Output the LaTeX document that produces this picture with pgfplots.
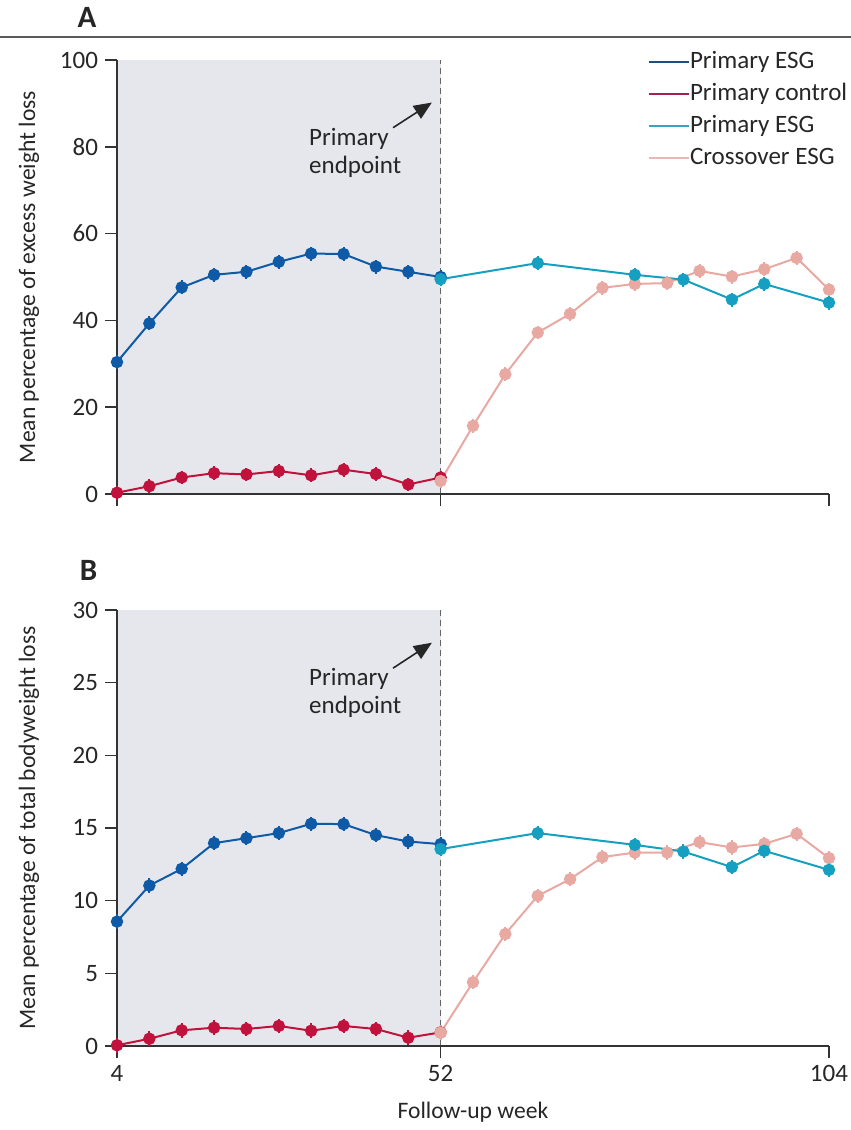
\documentclass[border=0pt]{standalone}
\usepackage{fontspec}
\setmainfont{Carlito}
\usepackage{pgfplots}
\usepackage{pgfplotstable}
\pgfplotsset{compat=1.18}
\usetikzlibrary{arrows.meta}
\definecolor{esgblue}{HTML}{0E5AA7}
\definecolor{ctrlred}{HTML}{C0123C}
\definecolor{esgcyan}{HTML}{15A0C2}
\definecolor{crosspink}{HTML}{E8A9A2}
\definecolor{bgshade}{HTML}{E6E7EC}
\definecolor{axisgray}{HTML}{333333}
\definecolor{legblue}{HTML}{1F4D80}
\definecolor{legred}{HTML}{A8204F}
\definecolor{legcyan}{HTML}{35A5BF}
\definecolor{legpink}{HTML}{EAB8B4}
\newcommand{\fs}{\fontsize{12.5}{14}\selectfont}
\newcommand{\fl}{\fontsize{11.8}{14}\selectfont}

% x = visit position (0 = week 4, 10 = week 52, 22 = week 104)
\pgfplotstableread{
x  a     b
0  30.4  8.56
1  39.3  11.04
2  47.6  12.19
3  50.5  13.96
4  51.2  14.30
5  53.5  14.65
6  55.4  15.29
7  55.3  15.27
8  52.4  14.51
9  51.2  14.07
10 50.0  13.89
}\esgtab
\pgfplotstableread{
x  a    b
0  0.3  0.05
1  1.8  0.50
2  3.8  1.08
3  4.8  1.26
4  4.5  1.17
5  5.3  1.38
6  4.3  1.05
7  5.6  1.38
8  4.6  1.17
9  2.2  0.57
10 3.8  0.94
}\ctrltab
\pgfplotstableread{
x    a     b
10   49.5  13.55
13   53.2  14.65
16   50.5  13.84
17.5 49.4  13.38
19   44.8  12.31
20   48.4  13.43
22   44.1  12.12
}\cyantab
\pgfplotstableread{
x  a     b
10 3.0   0.92
11 15.7  4.39
12 27.6  7.71
13 37.2  10.33
14 41.5  11.48
15 47.5  13.00
16 48.4  13.31
17 48.6  13.31
18 51.4  14.03
19 50.1  13.66
20 51.8  13.91
21 54.4  14.60
22 47.1  12.93
}\crosstab

\pgfplotsset{
  panel/.style={
    set layers,
    scale only axis, width=356pt,
    xmin=0, xmax=22,
    axis x line*=bottom, axis y line*=left,
    axis line style={axisgray, line width=0.75pt},
    tick style={axisgray, line width=0.75pt},
    major tick length=6pt, tick align=outside,
    xtick={0,10,22},
    clip=false,
    /pgf/number format/assume math mode=true,
    tick label style={font=\fs, text=black!85},
    every axis y label/.style={at={(axis description cs:-0.1236,0.5)}, rotate=90, anchor=center, font=\fl, text=black!85},
    every axis x label/.style={at={(axis description cs:0.5,-0.1514)}, anchor=center, font=\fl, text=black!85},
  },
  ser/.style={#1, line width=1pt, mark=*, mark size=2.6pt, forget plot},
}

\begin{document}
\begin{tikzpicture}
\draw[black!65, line width=1pt] (-58.5pt,228.5pt) -- (367pt,228.5pt);
\node[font=\bfseries\fontsize{15.5}{18}\selectfont, text=black!85] at (-15pt,238.5pt) {A};
\node[font=\bfseries\fontsize{15.5}{18}\selectfont, text=black!85] at (-14.25pt,-38pt) {B};

% Panel A
\begin{axis}[panel, at={(0,0)}, anchor=south west, height=217pt,
  ymin=0, ymax=100, ytick={0,20,40,60,80,100},
  xticklabels={},
  ylabel={Mean percentage of excess weight loss},
  legend image code/.code={\draw[#1] (0pt,0pt) -- (20pt,0pt);},
  legend cell align=left,
  legend style={draw=none, fill=none, at={(axis description cs:0.7458,1.0230)}, anchor=north west,
    inner sep=0pt, outer sep=0pt, row sep=4pt,
    nodes={inner sep=0pt, text height=9pt, text depth=3pt, font=\fs, text=black!85},
    /tikz/every even column/.append style={column sep=3.5pt}},
]
\pgfplotsextra{
\begin{pgfonlayer}{axis background}
\fill[bgshade] (axis cs:0,0) rectangle (axis cs:10,100);
\draw[black!60, line width=0.6pt, dash pattern=on 3pt off 2pt] (axis cs:10,0) -- (axis cs:10,100);
\end{pgfonlayer}
}
\addplot[ser=esgblue, error bars/.cd, y dir=both, y fixed=1.6, error mark=none, error bar style={line width=1pt}] table[x=x,y=a]{\esgtab};
\addplot[ser=ctrlred, error bars/.cd, y dir=both, y fixed=1.6, error mark=none, error bar style={line width=1pt}] table[x=x,y=a]{\ctrltab};
\addplot[ser=crosspink, error bars/.cd, y dir=both, y fixed=1.6, error mark=none, error bar style={line width=1pt}] table[x=x,y=a]{\crosstab};
\addplot[ser=esgcyan, error bars/.cd, y dir=both, y fixed=1.6, error mark=none, error bar style={line width=1pt}] table[x=x,y=a]{\cyantab};
\addlegendimage{legblue, line width=1pt}\addlegendentry{Primary ESG}
\addlegendimage{legred, line width=1pt}\addlegendentry{Primary control}
\addlegendimage{legcyan, line width=1pt}\addlegendentry{Primary ESG}
\addlegendimage{legpink, line width=1pt}\addlegendentry{Crossover ESG}
\node[anchor=west, align=left, font=\fs, text=black!85] at (axis cs:5.72,78.7) {Primary\\endpoint};
\draw[-{Triangle[length=9pt,width=7.5pt]}, line width=0.8pt, black!85] (axis cs:8.53,84.4) -- (axis cs:9.73,90.2);
\end{axis}

% Panel B
\begin{axis}[panel, at={(0,-276pt)}, anchor=south west, height=218pt,
  ymin=0, ymax=30, ytick={0,5,10,15,20,25,30},
  xticklabels={4,52,104},
  ylabel={Mean percentage of total bodyweight loss},
  xlabel={Follow-up week},
]
\pgfplotsextra{
\begin{pgfonlayer}{axis background}
\fill[bgshade] (axis cs:0,0) rectangle (axis cs:10,30);
\draw[black!60, line width=0.6pt, dash pattern=on 3pt off 2pt] (axis cs:10,0) -- (axis cs:10,30);
\end{pgfonlayer}
}
\addplot[ser=esgblue, error bars/.cd, y dir=both, y fixed=0.5, error mark=none, error bar style={line width=1pt}] table[x=x,y=b]{\esgtab};
\addplot[ser=ctrlred, error bars/.cd, y dir=both, y fixed=0.5, error mark=none, error bar style={line width=1pt}] table[x=x,y=b]{\ctrltab};
\addplot[ser=crosspink, error bars/.cd, y dir=both, y fixed=0.5, error mark=none, error bar style={line width=1pt}] table[x=x,y=b]{\crosstab};
\addplot[ser=esgcyan, error bars/.cd, y dir=both, y fixed=0.5, error mark=none, error bar style={line width=1pt}] table[x=x,y=b]{\cyantab};
\node[anchor=west, align=left, font=\fs, text=black!85] at (axis cs:5.72,24.3) {Primary\\endpoint};
\draw[-{Triangle[length=9pt,width=7.5pt]}, line width=0.8pt, black!85] (axis cs:8.53,26.0) -- (axis cs:9.73,27.75);
\end{axis}
\pgfresetboundingbox
\path (-58.5pt,-318pt) rectangle (367pt,247pt);
\end{tikzpicture}
\end{document}
